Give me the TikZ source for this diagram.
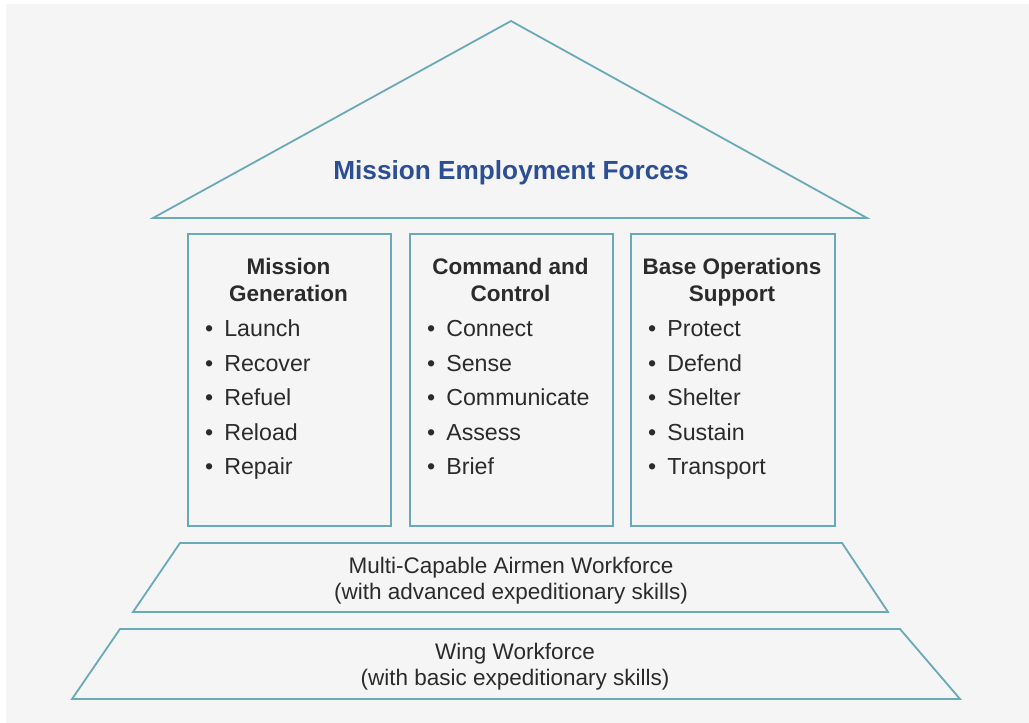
\documentclass[tikz,border=0pt]{standalone}
\usepackage{fontspec}
\setmainfont{Liberation Sans}
\definecolor{bgpanel}{HTML}{F5F5F5}
\definecolor{frameteal}{HTML}{6AAAB8}
\definecolor{headblue}{HTML}{2C4E94}
\definecolor{inkgray}{HTML}{2B2B2B}
\tikzset{
  outline/.style={draw=frameteal, line width=1.8pt, line join=miter},
  pillar/.style={outline, anchor=north west, minimum width=203pt, minimum height=292pt, inner sep=0pt},
  caption/.style={text=inkgray, font=\fontsize{22.5}{27}\selectfont\bfseries, align=center, inner sep=0pt, text depth=0pt},
  item/.style={text=inkgray, font=\fontsize{23.2}{27}\selectfont, anchor=west, inner sep=0pt, text height=0.72em, text depth=0pt},
  tiertext/.style={text=inkgray, font=\fontsize{22.5}{26}\selectfont, align=center, inner sep=0pt},
}
\begin{document}
\begin{tikzpicture}[x=1pt, y=-1pt]
  % page and panel
  \useasboundingbox (0,0) rectangle (1029,723);
  \fill[white] (0,0) rectangle (1029,723);
  \fill[bgpanel] (6,4) rectangle (1029,723);

  % roof
  \coordinate (apex) at (511,21);
  \coordinate (eaveL) at (153,218);
  \coordinate (eaveR) at (867,218);
  \draw[outline] (eaveL) -- (apex) -- (eaveR) -- cycle;
  \node[text=headblue, font=\fontsize{26.2}{30}\selectfont\bfseries, inner sep=0pt] (roof) at (511,173) {Mission Employment Forces};

  % pillars
  \node[pillar] (mg) at (187,233) {};
  \node[pillar] (cc) at (409,233) {};
  \node[pillar, minimum width=204pt] (bos) at (630,233) {};

  \node[caption] (mgT) at (288.5,280) {Mission\\Generation};
  \node[caption] (ccT) at (510.5,280) {Command and\\Control};
  \node[caption] (bosT) at (732,280) {Base Operations\\Support};

  \foreach \t [count=\i] in {Launch,Recover,Refuel,Reload,Repair}
    \node[item] (mg\i) at (205,{333+34.5*(\i-1)}) {\textbullet\hspace{11pt}\t};
  \foreach \t [count=\i] in {Connect,Sense,Communicate,Assess,Brief}
    \node[item] (cc\i) at (427,{333+34.5*(\i-1)}) {\textbullet\hspace{11pt}\t};
  \foreach \t [count=\i] in {Protect,Defend,Shelter,Sustain,Transport}
    \node[item] (bos\i) at (648,{333+34.5*(\i-1)}) {\textbullet\hspace{11pt}\t};

  % foundation tiers
  \coordinate (t1a) at (180,543);
  \coordinate (t1b) at (842,543);
  \coordinate (t1c) at (888,612);
  \coordinate (t1d) at (133,612);
  \draw[outline] (t1a) -- (t1b) -- (t1c) -- (t1d) -- cycle;
  \node[tiertext] (mca) at (511,581) {Multi-Capable Airmen Workforce\\(with advanced expeditionary skills)};

  \coordinate (t2a) at (120,629);
  \coordinate (t2b) at (900,629);
  \coordinate (t2c) at (960,699);
  \coordinate (t2d) at (72,699);
  \draw[outline] (t2a) -- (t2b) -- (t2c) -- (t2d) -- cycle;
  \node[tiertext] (wing) at (515,667) {Wing Workforce\\(with basic expeditionary skills)};
\end{tikzpicture}
\end{document}
